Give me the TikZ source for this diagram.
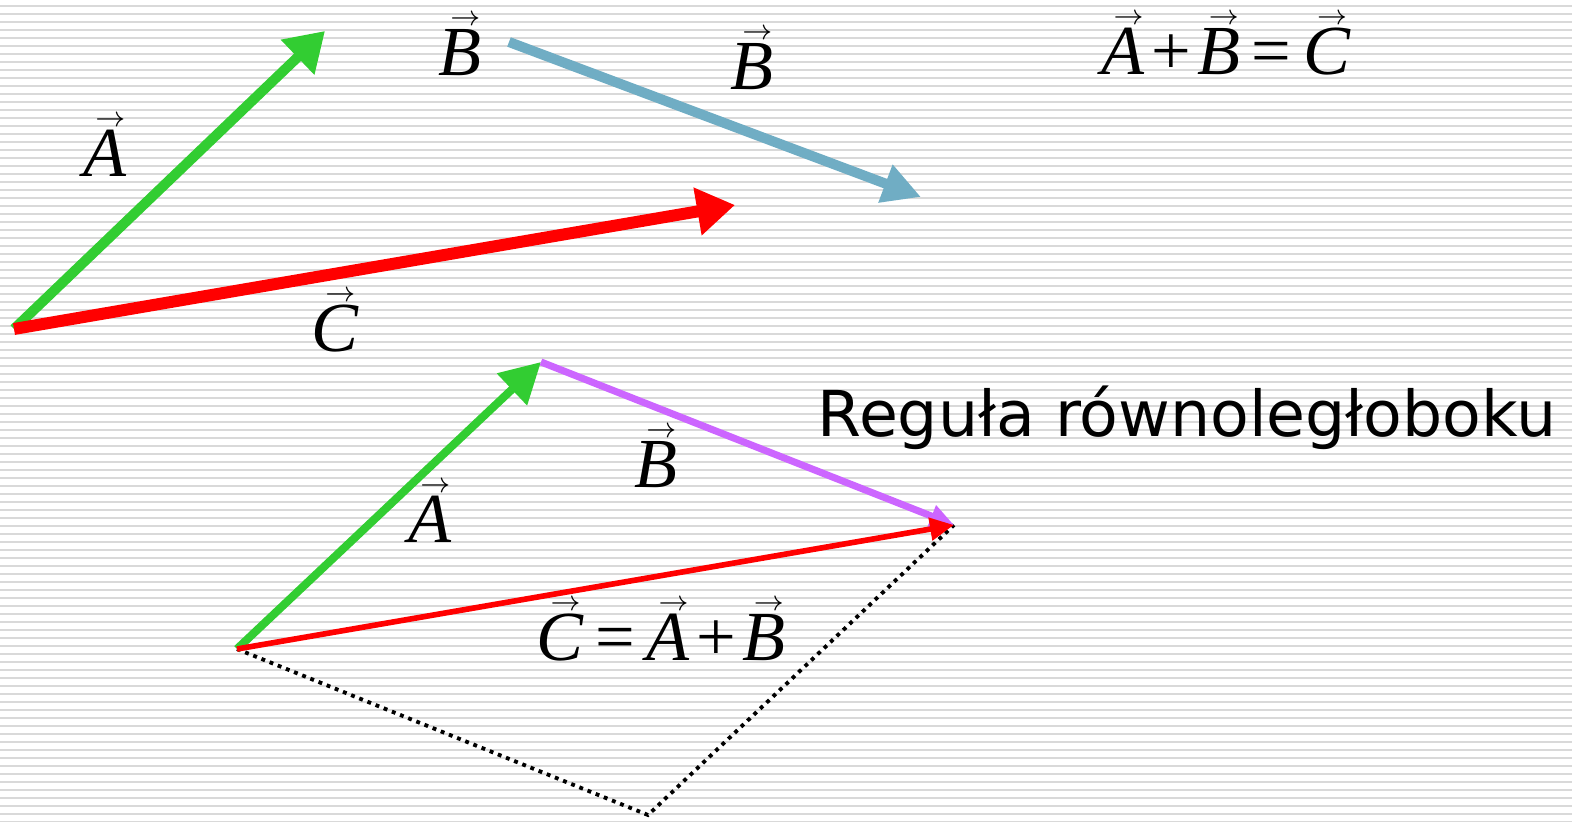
\documentclass[tikz,border=0pt]{standalone}
\usepackage{fontspec}
\setmainfont{Liberation Serif}
\newfontfamily\rulefont{DejaVu Sans}
\usepackage{tikz}
\usetikzlibrary{arrows.meta}

\definecolor{vgreen}{RGB}{50,205,50}
\definecolor{vblue}{RGB}{112,173,196}
\definecolor{vpurple}{RGB}{204,102,255}
\definecolor{stripegray}{RGB}{217,217,217}

% letter with a small arrow above it
\newcommand{\wek}[1]{\leavevmode\vbox{\offinterlineskip\halign{\hfil##\hfil\cr
    \kern0.15em{\fontsize{8}{8}\selectfont$\rightarrow$}\cr\noalign{\kern1.2pt}
    \itshape #1\cr}}}
\newcommand{\plus}{\kern1.8pt+\kern1.8pt}

\begin{document}
\begin{tikzpicture}[x=0.01cm, y=-0.01cm,
    stripe/.style={draw=stripegray, line width=0.57pt},
    bigvec/.style={line width=2.85pt, -{Triangle[length=3.8mm, width=4.6mm]}},
    smallvec/.style={line width=1.6pt, -{Triangle[length=2.4mm, width=2.2mm]}},
    lbl/.style={anchor=base, inner sep=0pt, font=\fontsize{20}{24}\selectfont},
    rulelbl/.style={anchor=base, inner sep=0pt, font=\rulefont\fontsize{18}{22}\selectfont}
]
\useasboundingbox (0,0) rectangle (1572,822);
\fill[white] (0,0) rectangle (1572,822);
\foreach \k in {0,...,102}
    \draw[stripe] (0,6+8*\k) -- (1572,6+8*\k);

% top: the three vectors
\coordinate (o1) at (14,329);
\coordinate (a1) at (325,31);
\coordinate (c1) at (735,205);
\coordinate (b1s) at (509,42);
\coordinate (b1e) at (921,197);

\draw[bigvec, draw=vgreen, fill=vgreen] (o1) -- (a1);
\draw[bigvec, draw=red, fill=red, line width=3.4pt] (o1) -- (c1);
\draw[bigvec, draw=vblue, fill=vblue, -{Triangle[length=3.8mm, width=3.8mm]}] (b1s) -- (b1e);

\node[lbl] (la1) at (105,177) {\wek{A}};
\node[lbl] (lb1) at (460,76) {\wek{B}};
\node[lbl] (lb1r) at (752,90) {\wek{B}};
\node[lbl] (lc1) at (335,352) {\wek{C}};
\node[lbl] (sum1) at (1226,75) {\wek{A}\plus\wek{B}\,=\,\wek{C}};

% bottom: parallelogram rule
\coordinate (o2) at (237,649);
\coordinate (a2) at (541,362);
\coordinate (s2) at (954,525);
\coordinate (d2) at (648,815);

\draw[line width=1.1pt, dash pattern=on 1.1pt off 1.4pt] (o2) -- (d2) -- (s2);
\draw[bigvec, draw=vgreen, fill=vgreen, line width=2.3pt, -{Triangle[length=4mm, width=4.2mm]}] (o2) -- (a2);
\draw[smallvec, draw=vpurple, fill=vpurple, line width=2pt] (a2) -- (s2);
\draw[smallvec, draw=red, fill=red] (o2) -- (s2);

\node[lbl] (la2) at (430,543) {\wek{A}};
\node[lbl] (lb2) at (656,488) {\wek{B}};
\node[lbl] (sum2) at (661,661) {\wek{C}\,=\,\wek{A}\plus\wek{B}};
\node[rulelbl] (rule) at (1187,437) {Reguła równoległoboku};
\end{tikzpicture}
\end{document}
